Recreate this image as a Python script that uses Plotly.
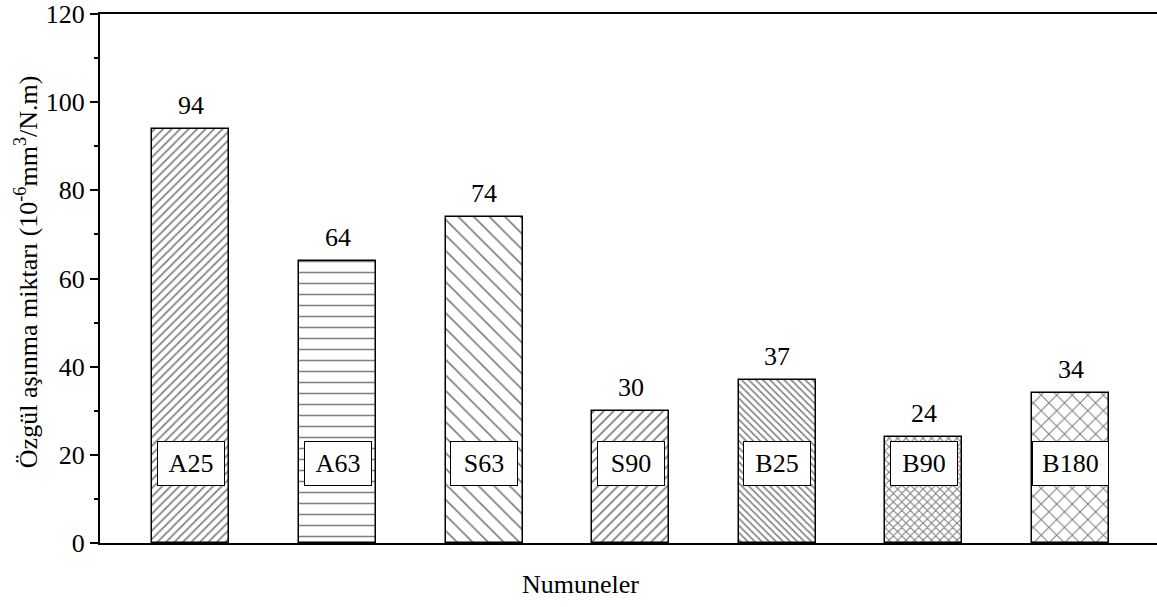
import plotly.graph_objects as go

categories = ["A25", "A63", "S63", "S90", "B25", "B90", "B180"]
values = [94, 64, 74, 30, 37, 24, 34]
patterns = ["/", "-", "\\", "/", "\\", "x", "x"]
pattern_sizes = [6, 11, 11, 7, 5, 6, 11]
pattern_solidity = [0.28, 0.14, 0.15, 0.25, 0.32, 0.34, 0.18]
label_y = 18
x_title = "Numuneler"
y_title = "Özgül aşınma miktarı (10<sup>-6</sup>mm<sup>3</sup>/N.m)"

FONT = "Liberation Serif, Times New Roman, serif"
xpos = list(range(len(categories)))

fig = go.Figure()
for i, (c, v, p, s, so) in enumerate(zip(categories, values, patterns, pattern_sizes, pattern_solidity)):
    fig.add_trace(go.Bar(
        x=[xpos[i]], y=[v], width=0.525, name=c,
        marker=dict(color="white", line=dict(color="black", width=1.5),
                    pattern=dict(shape=p, size=s, solidity=so,
                                 fgcolor="black", bgcolor="white")),
        showlegend=False, hoverinfo="skip",
    ))
    fig.add_annotation(x=xpos[i], y=v, text=str(v), showarrow=False,
                       yanchor="bottom", yshift=7,
                       font=dict(family=FONT, size=26, color="black"))
    w = 75 if len(c) > 3 else 66
    fig.add_annotation(x=xpos[i], y=label_y, text=c, showarrow=False,
                       bgcolor="white", bordercolor="black", borderwidth=1,
                       borderpad=0, width=w, height=43,
                       font=dict(family=FONT, size=26, color="black"))

# axis titles as annotations (positioned like the reference)
fig.add_annotation(xref="paper", yref="paper", x=0.455, y=-0.079,
                   text=x_title, showarrow=False, xanchor="center", yanchor="middle",
                   font=dict(family=FONT, size=26, color="black"))
fig.add_annotation(xref="paper", yref="paper", x=0, xshift=-74, y=0.512,
                   text=y_title, showarrow=False, textangle=-90,
                   xanchor="center", yanchor="middle",
                   font=dict(family=FONT, size=26, color="black"))

fig.update_layout(
    width=1157, height=607,
    margin=dict(l=100, r=0, t=14, b=64, autoexpand=False),
    plot_bgcolor="white", paper_bgcolor="white",
    font=dict(family=FONT, size=26, color="black"),
    bargap=0,
)
fig.update_xaxes(range=[-0.62, 6.59], showticklabels=False, ticks="",
                 showline=True, linecolor="black", linewidth=2, mirror=True,
                 showgrid=False, zeroline=False, automargin=False)
fig.update_yaxes(range=[0, 120], tickvals=[0, 20, 40, 60, 80, 100, 120],
                 ticks="outside", ticklen=8, tickwidth=1.5, tickcolor="black",
                 minor=dict(tickvals=[10, 30, 50, 70, 90, 110], ticks="outside",
                            ticklen=4, tickwidth=1.5, tickcolor="black"),
                 showline=True, linecolor="black", linewidth=2,
                 showgrid=False, zeroline=False, automargin=False,
                 ticklabeloverflow="allow",
                 tickfont=dict(family=FONT, size=26))

fig.write_html("out.html", config={"displayModeBar": False},
               post_script="document.body.style.margin='0';")
